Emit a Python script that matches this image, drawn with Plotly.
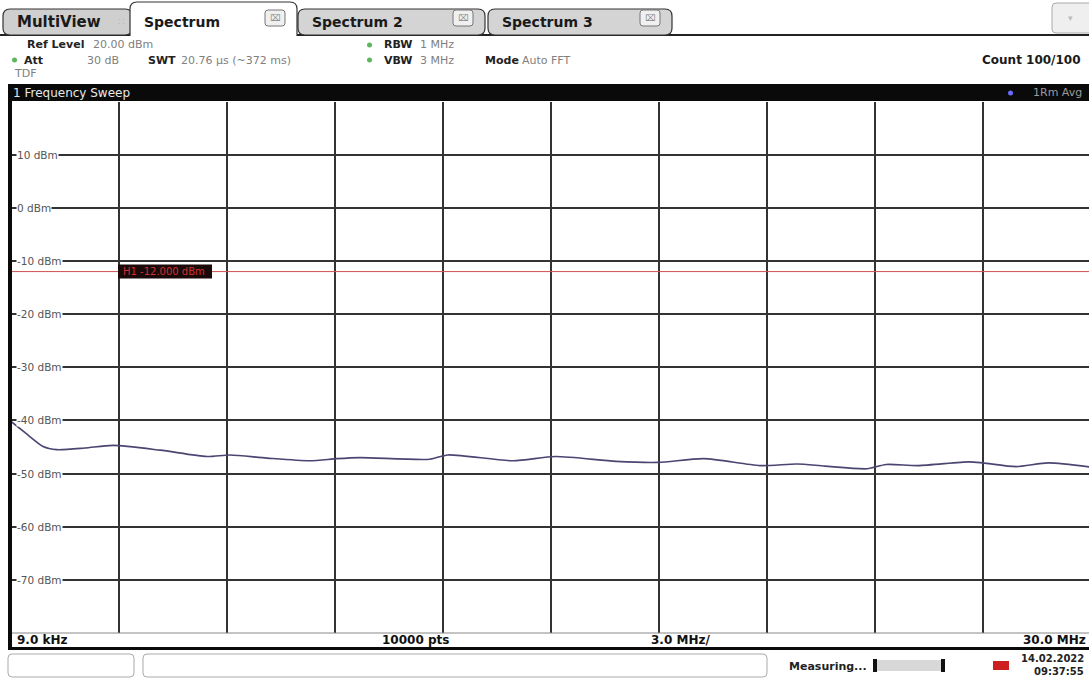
import plotly.graph_objects as go

# ---------------- data ----------------
freq_mhz = [0.009, 0.40, 0.90, 1.28, 2.06, 2.84, 4.15, 5.45, 6.09, 7.12, 8.31, 9.06, 9.70,
            11.64, 12.14, 13.95, 15.12, 16.81, 17.98, 19.25, 20.81, 21.84, 22.61, 23.78,
            24.31, 25.20, 26.61, 27.00, 27.92, 28.81, 30.0]
level_dbm = [-40.2, -42.3, -44.9, -45.5, -45.2, -44.7, -45.6, -46.8, -46.5, -47.1, -47.6, -47.2, -47.0,
             -47.3, -46.5, -47.6, -46.8, -47.7, -47.9, -47.2, -48.5, -48.2, -48.6, -49.1,
             -48.3, -48.5, -47.8, -48.0, -48.7, -48.0, -48.8]
y_ticks = [10, 0, -10, -20, -30, -40, -50, -60, -70]
y_tick_labels = ["10 dBm", "0 dBm", "-10 dBm", "-20 dBm", "-30 dBm", "-40 dBm", "-50 dBm", "-60 dBm", "-70 dBm"]
ref_level = 20.0
bottom_level = -80.0
display_line = -12.0
start_mhz = 0.009
stop_mhz = 30.0
span_div = 3.0
tabs = ["MultiView", "Spectrum", "Spectrum 2", "Spectrum 3"]

W, H = 1089, 679


def px(x):
    return x / W


def py(y):
    return 1 - y / H


fig = go.Figure()
fig.add_trace(go.Scatter(x=freq_mhz, y=level_dbm, mode="lines",
                         line=dict(color="#4a4672", width=1.6, shape="spline", smoothing=0.7),
                         hoverinfo="skip", showlegend=False))
fig.add_trace(go.Scatter(x=[start_mhz, stop_mhz], y=[display_line, display_line], mode="lines",
                         line=dict(color="#d05050", width=1), hoverinfo="skip", showlegend=False))

shapes = []
ann = []


def rect(x0, y0, x1, y1, fill, line="rgba(0,0,0,0)", lw=1, layer="above"):
    shapes.append(dict(type="rect", xref="paper", yref="paper", x0=px(x0), x1=px(x1),
                       y0=py(y1), y1=py(y0), fillcolor=fill, line=dict(color=line, width=lw),
                       layer=layer))


def rrect(x0, y0, x1, y1, r, fill, line, lw=1, top_only=False):
    X0, X1 = px(x0), px(x1)
    Y0, Y1 = py(y1), py(y0)
    rx, ry = px(r), r / H
    if top_only:
        path = (f"M{X0},{Y0} L{X0},{Y1-ry} Q{X0},{Y1} {X0+rx},{Y1} L{X1-rx},{Y1} "
                f"Q{X1},{Y1} {X1},{Y1-ry} L{X1},{Y0}")
    else:
        path = (f"M{X0+rx},{Y0} L{X1-rx},{Y0} Q{X1},{Y0} {X1},{Y0+ry} L{X1},{Y1-ry} "
                f"Q{X1},{Y1} {X1-rx},{Y1} L{X0+rx},{Y1} Q{X0},{Y1} {X0},{Y1-ry} "
                f"L{X0},{Y0+ry} Q{X0},{Y0} {X0+rx},{Y0} Z")
    shapes.append(dict(type="path", xref="paper", yref="paper", path=path,
                       fillcolor=fill, line=dict(color=line, width=lw), layer="above"))


def text(x, y, s, size=11, color="#222", anchor="left", bold=False, bg=None, family="DejaVu Sans", yanchor="middle"):
    if bold:
        s = f"<b>{s}</b>"
    a = dict(xref="paper", yref="paper", x=px(x), y=py(y), text=s, showarrow=False,
             xanchor=anchor, yanchor=yanchor, font=dict(size=size, color=color, family=family))
    if bg:
        a["bgcolor"] = bg
        a["borderpad"] = 0
    ann.append(a)


# ---------- tabs ----------
shapes.append(dict(type="line", xref="paper", yref="paper", x0=0, x1=1, y0=py(35), y1=py(35),
                   line=dict(color="#222", width=2), layer="above"))
tab_boxes = [(3, 132, 9, "#cfcfcf"), (130, 297, 2, "#ffffff"), (298, 485, 9, "#d4d4d4"), (488, 672, 9, "#d4d4d4")]
for (x0, x1, y0, fill), name in zip(tab_boxes, tabs):
    if fill == "#ffffff":
        rect(x0 + 1, 34, x1 - 1, 37, "#ffffff")
    rrect(x0, y0, x1, 35 if fill != "#ffffff" else 36, 7, fill, "#333", 1.2, top_only=(fill == "#ffffff"))
for (x0, x1, y0, fill), name in zip(tab_boxes, tabs):
    sz = 15 if name == "MultiView" else 14
    text(x0 + 12, 22, name, size=sz, color="#1a1a1a", bold=True)
    if name != "MultiView":
        cx = x1 - 22
        rrect(cx - 10, 10, cx + 10, 26, 3, "#f0f0f0", "#777", 1)
        text(cx, 18, "⌧", size=9, color="#888", anchor="center")
text(121, 22, "∷", size=10, color="#bbb", anchor="center")
rrect(1052, 3, 1095, 33, 4, "#efefef", "#aaa", 1)
text(1070, 18, "▾", size=9, color="#bbb", anchor="center")

# ---------- header ----------
text(25, 45, "Ref Level", size=11, color="#222", bold=True)
text(91, 45, "20.00 dBm", size=11, color="#808080")
shapes.append(dict(type="circle", xref="paper", yref="paper", x0=px(12), x1=px(17), y0=py(62.5), y1=py(57.5),
                   fillcolor="#5cb85c", line=dict(width=0), layer="above"))
text(22, 60, "Att", size=11, color="#222", bold=True)
text(121, 60, "30 dB", size=11, color="#808080", anchor="right")
text(146, 60, "SWT", size=11, color="#222", bold=True)
text(179, 60, "20.76 µs (~372 ms)", size=11, color="#808080")
text(12, 73, "TDF", size=11, color="#808080")
for yy in (45, 60):
    shapes.append(dict(type="circle", xref="paper", yref="paper", x0=px(367), x1=px(372), y0=py(yy + 2.5),
                       y1=py(yy - 2.5), fillcolor="#5cb85c", line=dict(width=0), layer="above"))
text(382, 45, "RBW", size=11, color="#222", bold=True)
text(418, 45, "1 MHz", size=11, color="#808080")
text(382, 60, "VBW", size=11, color="#222", bold=True)
text(418, 60, "3 MHz", size=11, color="#808080")
text(483, 60, "Mode", size=11, color="#222", bold=True)
text(520, 60, "Auto FFT", size=11, color="#808080")
text(1083, 60, "Count 100/100", size=12, color="#1a1a1a", anchor="right", bold=True)

# ---------- black title bar ----------
rect(8, 84, 1089, 101, "#0a0a0a")
text(11, 93, "1 Frequency Sweep", size=12, color="#e8e8e8")
shapes.append(dict(type="circle", xref="paper", yref="paper", x0=px(1008), x1=px(1013), y0=py(95.5), y1=py(90.5),
                   fillcolor="#6a6aff", line=dict(width=0), layer="above"))
text(1084, 93, "1Rm Avg", size=11, color="#9a9a9a", anchor="right")

# ---------- left border ----------
rect(8, 84, 12, 650, "#0a0a0a")

# ---------- y tick labels ----------
ymin_pix, ymax_pix = 633.0, 101.5
for v, lab in zip(y_ticks, y_tick_labels):
    yy = ymax_pix + (ref_level - v) / (ref_level - bottom_level) * (ymin_pix - ymax_pix)
    text(16, yy, lab, size=10.5, color="#555", bg="#ffffff")

# ---------- display line label ----------
dl_y = ymax_pix + (ref_level - display_line) / (ref_level - bottom_level) * (ymin_pix - ymax_pix)
rect(118, dl_y - 7, 212, dl_y + 7, "#1a0a0a")
text(121, dl_y, f"H1 {display_line:.3f} dBm", size=10, color="#d03030")

# ---------- footer strip ----------
rect(12, 633, 1089, 647, "#ffffff")
shapes.append(dict(type="line", xref="paper", yref="paper", x0=px(12), x1=1, y0=py(633), y1=py(633),
                   line=dict(color="#888", width=1), layer="above"))
rect(8, 647, 1089, 650, "#0a0a0a")
text(15, 640, "9.0 kHz", size=12, color="#111", bold=True)
text(415, 640, "10000 pts", size=12, color="#111", anchor="center", bold=True)
text(680, 640, f"{span_div:.1f} MHz/", size=12, color="#111", anchor="center", bold=True)
text(1088, 640, f"{stop_mhz:.1f} MHz", size=12, color="#111", anchor="right", bold=True)

# ---------- status bar ----------
rrect(8, 654, 134, 677, 4, "#ffffff", "#aaa", 1)
rrect(143, 654, 767, 677, 4, "#ffffff", "#aaa", 1)
text(787, 666, "Measuring...", size=11, color="#222", bold=True)
rect(873, 660, 945, 671, "#d8d8d8")
rect(873, 659, 877, 672, "#111")
rect(941, 659, 945, 672, "#111")
rect(993, 661, 1009, 670, "#cc2020")
text(1086, 658, "14.02.2022", size=10, color="#222", anchor="right", bold=True)
text(1086, 671, "09:37:55", size=10, color="#222", anchor="right", bold=True)

fig.update_layout(
    width=W, height=H,
    margin=dict(l=0, r=0, t=0, b=0),
    paper_bgcolor="#ffffff", plot_bgcolor="#ffffff",
    shapes=shapes, annotations=ann,
    xaxis=dict(domain=[px(11), 1.0], range=[start_mhz, start_mhz + (stop_mhz - start_mhz) * 1078 / 1080],
               tick0=start_mhz, dtick=span_div, showgrid=True, gridcolor="#333333", gridwidth=1.5,
               showticklabels=False, zeroline=False, showline=False, ticks=""),
    yaxis=dict(domain=[py(ymin_pix), py(ymax_pix)], range=[bottom_level, ref_level],
               tick0=0, dtick=10, showgrid=True, gridcolor="#333333", gridwidth=1.5,
               showticklabels=False, zeroline=False, showline=False, ticks=""),
)

fig.write_html("out.html", config={"displayModeBar": False},
               post_script="document.body.style.margin='0';document.body.style.padding='0';document.body.style.overflow='hidden';")
